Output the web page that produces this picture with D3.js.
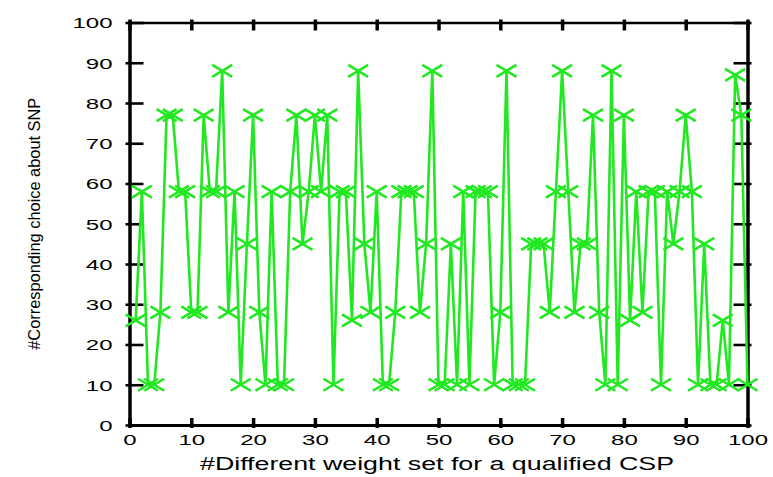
<!DOCTYPE html>
<html><head><meta charset="utf-8">
<script src="https://cdn.jsdelivr.net/npm/d3@7"></script>
<style>html,body{margin:0;padding:0;background:#fff;} svg{display:block}</style>
</head><body><svg id="c" width="773" height="477"></svg>
<script>
const weightSets = [1,2,3,4,5,6,7,8,9,10,11,12,13,14,15,16,17,18,19,20,
  21,22,23,24,25,26,27,28,29,30,31,32,33,34,35,36,37,38,39,40,
  41,42,43,44,45,46,47,48,49,50,51,52,53,54,55,56,57,58,59,60,
  61,62,63,64,65,66,67,68,69,70,71,72,73,74,75,76,77,78,79,80,
  81,82,83,84,85,86,87,88,89,90,91,92,93,94,95,96,97,98,99,100];
const snpChoice = [26,58,10,10,28,77,77,58,58,28,
  28,77,58,58,88,28,58,10,45,77,
  28,10,58,10,10,58,77,45,58,77,
  58,77,10,58,58,26,88,45,28,58,
  10,10,28,58,58,58,28,45,88,10,
  10,45,10,58,10,58,58,58,10,28,
  88,10,10,10,45,45,45,28,58,88,
  58,28,45,45,77,28,10,88,10,77,
  26,58,28,58,58,10,58,45,58,77,
  58,10,45,10,10,26,10,87,77,10];
const xTicks = [0,10,20,30,40,50,60,70,80,90,100];
const yTicks = [0,10,20,30,40,50,60,70,80,90,100];
const xLabel = "#Different weight set for a qualified CSP";
const yLabel = "#Corresponding choice about SNP";

const green = "#22e822";
const FONT = "'Liberation Sans', Arial, Helvetica, sans-serif";
const svg = d3.select('#c');
const x = d3.scaleLinear().domain([0,100]).range([129.5, 747.5]);
const y = d3.scaleLinear().domain([0,100]).range([425, 22.5]);

function styleAxis(g, domainW, tickW){
  g.attr('font-family', FONT).attr('font-size', 15);
  g.select('.domain').attr('stroke','#000').attr('stroke-width',domainW).attr('stroke-linecap','square');
  g.selectAll('.tick line').attr('stroke','#000').attr('stroke-width',tickW);
  g.selectAll('.tick text').attr('fill','#000');
}

// left axis
const gL = svg.append('g').attr('transform',`translate(${x(0)},0)`)
  .call(d3.axisLeft(y).tickValues(yTicks).tickSize(-14).tickSizeOuter(0).tickPadding(17));
styleAxis(gL, 3.5, 2.6);
gL.selectAll('.tick line').attr('x1',-4);
gL.selectAll('.tick text').attr('x',0).attr('dy','0.36em').attr('transform','translate(-17,0) scale(1.6,1)');

// right axis
const gR = svg.append('g').attr('transform',`translate(${x(100)},0)`)
  .call(d3.axisRight(y).tickValues(yTicks).tickSize(-14).tickSizeOuter(0).tickFormat(''));
styleAxis(gR, 3.5, 2.6);
gR.selectAll('.tick line').attr('x1',4);

// top axis
const gT = svg.append('g').attr('transform',`translate(0,${y(100)})`)
  .call(d3.axisTop(x).tickValues(xTicks).tickSize(-8).tickSizeOuter(0).tickFormat(''));
styleAxis(gT, 2.6, 3.5);
gT.selectAll('.tick line').attr('y1',-3);

// bottom axis
const gB = svg.append('g').attr('transform',`translate(0,${y(0)})`)
  .call(d3.axisBottom(x).tickValues(xTicks).tickSize(-7).tickSizeOuter(0).tickPadding(9));
styleAxis(gB, 3, 3.5);
gB.selectAll('.tick line').attr('y1',3);
gB.selectAll('.tick text').attr('transform','scale(1.6,1)');

// labels
svg.append('text').attr('x', 437).attr('y', 470)
  .attr('text-anchor','middle').attr('font-family',FONT).attr('font-size',17.5)
  .attr('textLength',474).attr('lengthAdjust','spacingAndGlyphs')
  .text(xLabel);
svg.append('text').attr('transform',`translate(40,${(y(0)+y(100))/2}) rotate(-90)`)
  .attr('text-anchor','middle').attr('font-family',FONT).attr('font-size',16)
  .attr('textLength',252).attr('lengthAdjust','spacingAndGlyphs')
  .text(yLabel);

// data
const line = d3.line().x((d,i)=>x(weightSets[i])).y(d=>y(d));
svg.append('path').datum(snpChoice).attr('d', line)
  .attr('fill','none').attr('stroke',green).attr('stroke-width',2.6).attr('stroke-linejoin','round');
svg.append('g').selectAll('path').data(snpChoice).join('path')
  .attr('transform',(d,i)=>`translate(${x(weightSets[i])},${y(d)})`)
  .attr('d','M-10,-6L10,6M-10,6L10,-6')
  .attr('fill','none').attr('stroke',green).attr('stroke-width',2.6);
</script></body></html>
